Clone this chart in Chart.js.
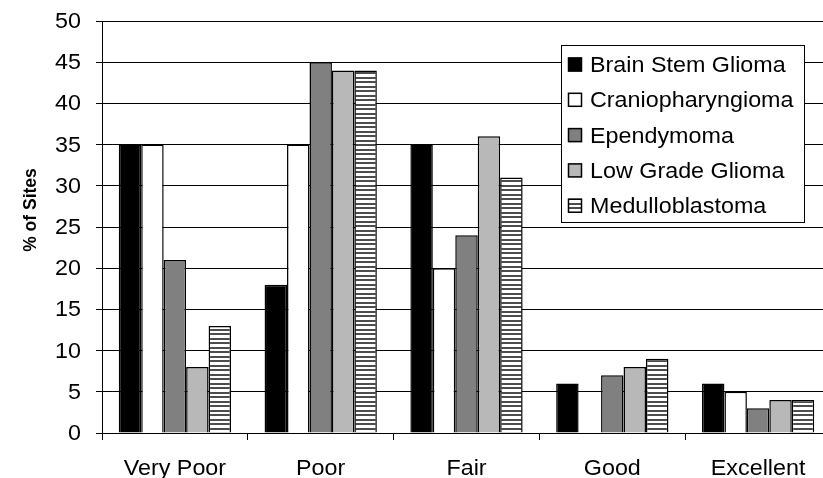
<!DOCTYPE html>
<html>
<head>
<meta charset="utf-8">
<script src="https://cdn.jsdelivr.net/npm/chart.js@4/dist/chart.umd.min.js"></script>
<style>
html,body{margin:0;padding:0;background:#fff;overflow:hidden;width:823px;height:478px;}
#wrap{width:831px;height:478px;}
</style>
</head>
<body>
<div id="wrap"><canvas id="c" width="831" height="478"></canvas></div>
<script>
const categories = ["Very Poor", "Poor", "Fair", "Good", "Excellent"];
const seriesNames = ["Brain Stem Glioma", "Craniopharyngioma", "Ependymoma", "Low Grade Glioma", "Medulloblastoma"];
const brainStemGlioma   = [35, 18, 35, 6, 6];
const craniopharyngioma = [35, 35, 20, 0, 5];
const ependymoma        = [21, 45, 24, 7, 3];
const lowGradeGlioma    = [8, 44, 36, 8, 4];
const medulloblastoma   = [13, 44, 31, 9, 4];
const yTicks = [0, 5, 10, 15, 20, 25, 30, 35, 40, 45, 50];
const yTitle = "% of Sites";

function stripePattern() {
  const pc = document.createElement('canvas');
  pc.width = 4; pc.height = 9;
  const g = pc.getContext('2d');
  g.fillStyle = '#ffffff'; g.fillRect(0, 0, 4, 9);
  g.fillStyle = '#4d4d4d';
  g.fillRect(0, 0, 4, 2);
  g.fillRect(0, 5, 4, 2);
  return document.getElementById('c').getContext('2d').createPattern(pc, 'repeat');
}
const stripes = stripePattern();
const fills = ['#000000', '#ffffff', '#808080', '#b8b8b8', stripes];
const values = [brainStemGlioma, craniopharyngioma, ependymoma, lowGradeGlioma, medulloblastoma];

const FONT = "'Liberation Sans', Arial, sans-serif";
const SX = 1.06;

function stretchedText(ctx, text, x, y, align) {
  ctx.save();
  ctx.translate(x, y);
  ctx.scale(SX, 1);
  ctx.textAlign = align;
  ctx.fillText(text, 0, 0);
  ctx.restore();
}

const overlay = {
  id: 'overlay',
  afterDraw(chart) {
    const ctx = chart.ctx;
    const xs = chart.scales.x, ys = chart.scales.y;
    ctx.save();
    ctx.fillStyle = '#000';
    ctx.font = "22px " + FONT;
    ctx.textBaseline = 'alphabetic';
    categories.forEach((c, i) => {
      stretchedText(ctx, c, xs.getPixelForTick(i), 475, 'center');
    });
    ctx.textBaseline = 'middle';
    yTicks.forEach(v => {
      stretchedText(ctx, String(v), 81, ys.getPixelForValue(v) + 1, 'right');
    });
    ctx.restore();

    // y-axis title
    ctx.save();
    ctx.translate(31, 210);
    ctx.rotate(-Math.PI / 2);
    ctx.scale(1, SX);
    ctx.font = "bold 17.5px " + FONT;
    ctx.fillStyle = '#000';
    ctx.textAlign = 'center';
    ctx.textBaseline = 'middle';
    ctx.fillText(yTitle, 0, 0);
    ctx.restore();

    // legend box
    ctx.save();
    const lx = 561.5, ly = 45.5, lw = 243, lh = 177;
    ctx.fillStyle = '#fff';
    ctx.fillRect(lx, ly, lw, lh);
    ctx.strokeStyle = '#000';
    ctx.lineWidth = 1;
    ctx.strokeRect(lx, ly, lw, lh);
    ctx.font = "22px " + FONT;
    ctx.textBaseline = 'alphabetic';
    seriesNames.forEach((name, i) => {
      const cy = 64.5 + i * 35.3;
      ctx.fillStyle = fills[i];
      ctx.fillRect(568, cy - 7, 14, 14);
      ctx.lineWidth = 1.5;
      ctx.strokeStyle = '#000';
      ctx.strokeRect(568.5, cy - 6.5, 13, 13);
      ctx.fillStyle = '#000';
      stretchedText(ctx, name, 590, cy + 7.5, 'left');
    });
    ctx.restore();
  }
};

new Chart(document.getElementById('c'), {
  type: 'bar',
  data: {
    labels: categories,
    datasets: seriesNames.map((n, i) => ({
      label: n,
      data: values[i],
      backgroundColor: fills[i],
      borderColor: '#000',
      borderWidth: 1.5,
      barPercentage: 1.0,
      categoryPercentage: 0.77
    }))
  },
  options: {
    responsive: false,
    devicePixelRatio: 1,
    animation: false,
    layout: { padding: { top: 21, right: 0, left: 0, bottom: 0 } },
    plugins: { legend: { display: false }, tooltip: { enabled: false } },
    scales: {
      x: {
        afterFit(s) { s.height = 45; },
        grid: { display: true, drawOnChartArea: false, drawTicks: true, tickLength: 7, color: '#000', offset: true },
        border: { display: true, color: '#000', width: 1 },
        ticks: { display: false }
      },
      y: {
        min: 0, max: 50,
        afterFit(s) { s.width = 102; },
        afterBuildTicks(s) { s.ticks = yTicks.map(v => ({ value: v })); },
        grid: { color: '#000', lineWidth: 1, drawTicks: true, tickLength: 6 },
        border: { display: true, color: '#000', width: 1 },
        ticks: { display: false }
      }
    }
  },
  plugins: [overlay]
});
</script>
</body>
</html>
